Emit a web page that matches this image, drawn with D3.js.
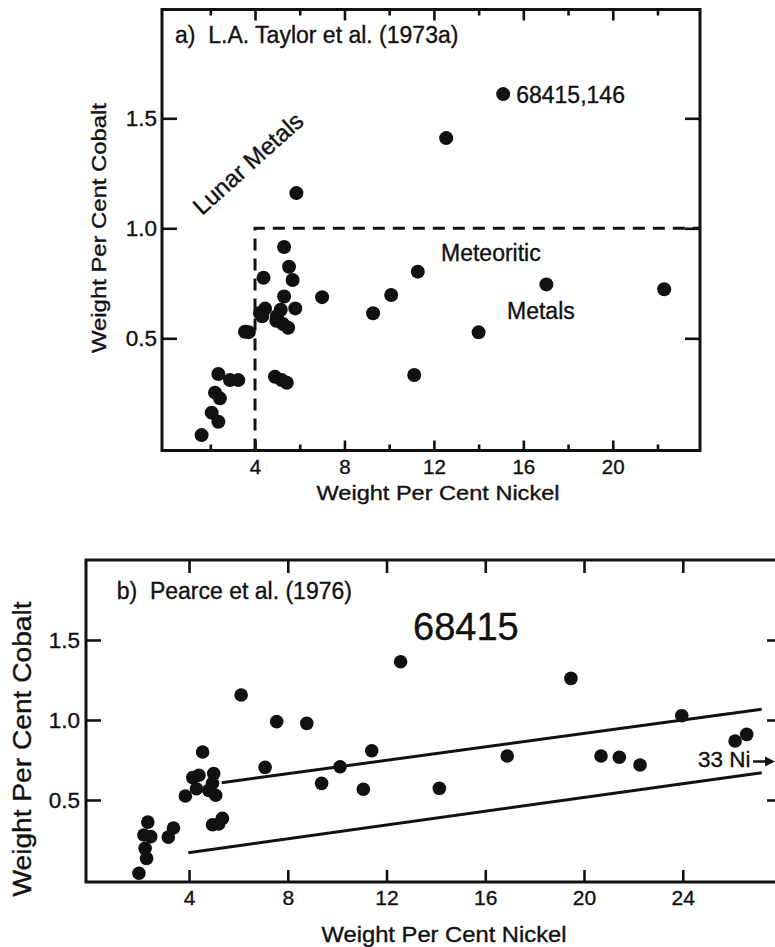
<!DOCTYPE html>
<html><head><meta charset="utf-8">
<script src="https://cdn.jsdelivr.net/npm/d3@7"></script>
<style>
html,body{margin:0;padding:0;background:#fff;}
svg{display:block;}
text{font-family:"Liberation Sans",Arial,Helvetica,sans-serif;fill:#111;stroke:#111;stroke-width:0.35px;}
</style>
</head><body>
<svg id="chart" width="775" height="947"></svg>
<script>
// ---------- Data ----------
// Panel a: L.A. Taylor et al. (1973a) — [Ni wt%, Co wt%]
const taylorPoints = [
  [15.1,1.61],[12.55,1.41],[5.85,1.16],[5.3,0.915],[5.52,0.825],[5.68,0.765],
  [4.38,0.775],[5.3,0.69],[7.0,0.687],[5.8,0.636],[4.22,0.615],[4.45,0.635],
  [4.32,0.6],[4.98,0.6],[5.15,0.63],[4.95,0.58],[5.25,0.565],[5.48,0.548],
  [3.55,0.53],[3.72,0.528],[2.36,0.338],[2.88,0.31],[3.25,0.31],[2.21,0.253],
  [2.43,0.227],[2.06,0.162],[2.36,0.121],[1.61,0.06],[4.89,0.325],[5.19,0.31],
  [5.42,0.298],[9.28,0.614],[10.09,0.697],[11.28,0.803],[11.12,0.333],[14.0,0.527],
  [17.03,0.745],[22.3,0.723]
];
// Panel b: Pearce et al. (1976) — [Ni wt%, Co wt%]
const pearcePoints = [
  [1.97,0.042],[2.28,0.135],[2.22,0.198],[2.17,0.281],[2.45,0.271],[2.33,0.362],
  [3.16,0.268],[3.37,0.325],[3.85,0.525],[4.15,0.64],[4.4,0.655],[4.3,0.57],
  [4.8,0.56],[5.0,0.665],[4.95,0.605],[5.08,0.53],[4.55,0.80],[4.95,0.345],
  [5.2,0.35],[5.35,0.385],[6.11,1.156],[7.55,0.99],[8.77,0.979],[7.08,0.704],
  [10.12,0.708],[9.37,0.604],[11.06,0.567],[11.40,0.808],[12.57,1.364],[14.14,0.573],
  [16.89,0.775],[19.47,1.26],[20.69,0.775],[21.43,0.767],[22.27,0.719],[23.96,1.027],
  [26.12,0.869],[26.59,0.91]
];
// Meteoritic metal field boundary (panel a)
const meteoriticNiMin = 4;
const meteoriticCoMax = 1.0;
// Meteoritic field lines (panel b)
const upperLine = [[5.32,0.608],[27.2,1.067]];
const lowerLine = [[3.97,0.171],[27.2,0.671]];
const arrowCo = 0.75;

// Ticks
const aXMajor = [4,8,12,16,20];
const aXMinor = [2,6,10,14,18,22];
const aYTicks = [0.5,1.0,1.5];
const bXTicks = [4,8,12,16,20,24];
const bYTicks = [0.5,1.0,1.5];

// ---------- Layout ----------
const svg = d3.select("#chart");
const FONT = '"Liberation Sans",Arial,Helvetica,sans-serif';
const INK = "#111";

function styleAxis(g, fs){
  g.select(".domain").remove();
  g.selectAll(".tick line").attr("stroke", INK).attr("stroke-width", 2.6);
  g.selectAll(".tick text").attr("font-size", fs).attr("font-family", FONT).attr("fill", INK);
  g.attr("font-family", FONT);
}

// ===== Panel a =====
const fa = {left:162, top:9.5, right:700, bottom:450.5};
const xA = d3.scaleLinear().domain([0,24]).range([165.6,702.2]);
const yA = d3.scaleLinear().domain([0,2]).range([448.3,8.3]);

const gA = svg.append("g");
gA.append("g").attr("transform",`translate(0,${fa.bottom})`)
  .call(d3.axisBottom(xA).tickValues(aXMajor).tickSize(-10).tickPadding(9).tickFormat(d3.format("d")))
  .call(g=>styleAxis(g,20.5));
gA.append("g").attr("transform",`translate(0,${fa.bottom})`)
  .call(d3.axisBottom(xA).tickValues(aXMinor).tickSize(-6).tickFormat(""))
  .call(g=>styleAxis(g,20));
gA.append("g").attr("transform",`translate(0,${fa.top})`)
  .call(d3.axisTop(xA).tickValues(aXMajor).tickSize(-11).tickFormat(""))
  .call(g=>styleAxis(g,20));
gA.append("g").attr("transform",`translate(0,${fa.top})`)
  .call(d3.axisTop(xA).tickValues(aXMinor).tickSize(-6).tickFormat(""))
  .call(g=>styleAxis(g,20));
gA.append("g").attr("transform",`translate(${fa.left},0)`)
  .call(d3.axisLeft(yA).tickValues(aYTicks).tickSize(-15).tickPadding(5).tickFormat(d3.format(".1f")))
  .call(g=>styleAxis(g,22.5));
gA.append("g").attr("transform",`translate(${fa.right},0)`)
  .call(d3.axisRight(yA).tickValues(aYTicks).tickSize(-15).tickFormat(""))
  .call(g=>styleAxis(g,22));

gA.append("rect").attr("x",fa.left).attr("y",fa.top)
  .attr("width",fa.right-fa.left).attr("height",fa.bottom-fa.top)
  .attr("fill","none").attr("stroke",INK).attr("stroke-width",3);

// dashed field boundary
gA.append("path")
  .attr("d", d3.line()([[xA(meteoriticNiMin), fa.bottom],[xA(meteoriticNiMin), yA(meteoriticCoMax)],[fa.right, yA(meteoriticCoMax)]]))
  .attr("fill","none").attr("stroke",INK).attr("stroke-width",3).attr("stroke-dasharray","12,8");

gA.selectAll("circle").data(taylorPoints).join("circle")
  .attr("cx",d=>xA(d[0])).attr("cy",d=>yA(d[1])).attr("r",7).attr("fill",INK);

gA.append("text").attr("x",175).attr("y",42.5).attr("font-size",23).style("white-space","pre")
  .text("a)  L.A. Taylor et al. (1973a)");
gA.append("text").attr("x",xA(15.1)+13).attr("y",103).attr("font-size",23).text("68415,146");
gA.append("text").attr("transform","translate(202,216) rotate(-42)").attr("font-size",24).text("Lunar Metals");
gA.append("text").attr("x",441).attr("y",261).attr("font-size",23).text("Meteoritic");
gA.append("text").attr("x",507).attr("y",318.5).attr("font-size",23).text("Metals");
gA.append("text").attr("x",438).attr("y",500).attr("font-size",21).attr("text-anchor","middle")
  .attr("textLength",243).attr("lengthAdjust","spacingAndGlyphs").text("Weight Per Cent Nickel");
gA.append("text").attr("transform","translate(106,228) rotate(-90)").attr("font-size",21).attr("text-anchor","middle")
  .attr("textLength",250).attr("lengthAdjust","spacingAndGlyphs").text("Weight Per Cent Cobalt");

// ===== Panel b =====
const fb = {left:86, top:560, right:782, bottom:882};
const xB = d3.scaleLinear().domain([0,28]).range([90.3,781.5]);
const yB = d3.scaleLinear().domain([0,2]).range([880,560]);

const gB = svg.append("g");
gB.append("g").attr("transform",`translate(0,${fb.bottom})`)
  .call(d3.axisBottom(xB).tickValues(bXTicks).tickSize(-12).tickPadding(8).tickFormat(d3.format("d")))
  .call(g=>styleAxis(g,21));
gB.append("g").attr("transform",`translate(0,${fb.top})`)
  .call(d3.axisTop(xB).tickValues(bXTicks).tickSize(-13).tickFormat(""))
  .call(g=>styleAxis(g,21));
gB.append("g").attr("transform",`translate(${fb.left},0)`)
  .call(d3.axisLeft(yB).tickValues(bYTicks).tickSize(-15).tickPadding(6).tickFormat(d3.format(".1f")))
  .call(g=>styleAxis(g,22.5));
gB.append("g").attr("transform",`translate(${fb.right},0)`)
  .call(d3.axisRight(yB).tickValues(bYTicks).tickSize(-15).tickFormat(""))
  .call(g=>styleAxis(g,22));

gB.append("rect").attr("x",fb.left).attr("y",fb.top)
  .attr("width",fb.right-fb.left).attr("height",fb.bottom-fb.top)
  .attr("fill","none").attr("stroke",INK).attr("stroke-width",3);

const lineB = d3.line().x(d=>xB(d[0])).y(d=>yB(d[1]));
[upperLine, lowerLine].forEach(l=>{
  gB.append("path").attr("d",lineB(l)).attr("fill","none").attr("stroke",INK).attr("stroke-width",3);
});

gB.selectAll("circle").data(pearcePoints).join("circle")
  .attr("cx",d=>xB(d[0])).attr("cy",d=>yB(d[1])).attr("r",6.8).attr("fill",INK);

gB.append("text").attr("x",116.7).attr("y",599).attr("font-size",23).style("white-space","pre")
  .text("b)  Pearce et al. (1976)");
gB.append("text").attr("x",413).attr("y",640).attr("font-size",38).text("68415");
gB.append("text").attr("x",698).attr("y",766.7).attr("font-size",22.5).text("33 Ni");
// arrow
const ay = yB(arrowCo) + 1.5;
gB.append("line").attr("x1",753).attr("x2",767).attr("y1",ay).attr("y2",ay)
  .attr("stroke",INK).attr("stroke-width",2.5);
gB.append("path").attr("d",`M765,${ay-5}L775,${ay}L765,${ay+5}Z`).attr("fill",INK);
gB.append("text").attr("x",444).attr("y",942).attr("font-size",21.5).attr("text-anchor","middle")
  .attr("textLength",245).attr("lengthAdjust","spacingAndGlyphs").text("Weight Per Cent Nickel");
gB.append("text").attr("transform","translate(31,749) rotate(-90)").attr("font-size",25).attr("text-anchor","middle")
  .attr("textLength",295).attr("lengthAdjust","spacingAndGlyphs").text("Weight Per Cent Cobalt");
</script>
</body></html>
